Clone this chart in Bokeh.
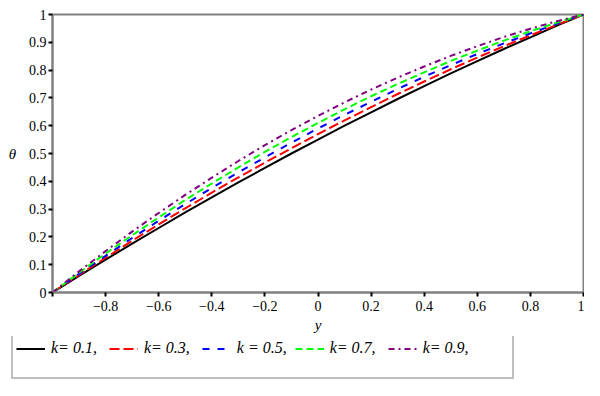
from bokeh.plotting import figure
from bokeh.models import Range1d, FixedTicker, Legend, LegendItem
from bokeh.layouts import column, row
from bokeh.embed import file_html
from bokeh.resources import INLINE

# data
y_vals = [-1.0, -0.9, -0.8, -0.7, -0.6, -0.5, -0.4, -0.3, -0.2, -0.1, 0.0,
          0.1, 0.2, 0.3, 0.4, 0.5, 0.6, 0.7, 0.8, 0.9, 1.0]
theta_k01 = [0, 0.060, 0.118, 0.176, 0.232, 0.288, 0.342, 0.396, 0.448, 0.500, 0.550,
             0.600, 0.648, 0.696, 0.742, 0.788, 0.832, 0.876, 0.918, 0.960, 1.0]
theta_k03 = [0, 0.063, 0.125, 0.186, 0.245, 0.303, 0.359, 0.414, 0.467, 0.519, 0.570,
             0.619, 0.667, 0.714, 0.759, 0.803, 0.845, 0.886, 0.925, 0.963, 1.0]
theta_k05 = [0, 0.067, 0.132, 0.196, 0.258, 0.318, 0.376, 0.432, 0.486, 0.539, 0.590,
             0.639, 0.686, 0.732, 0.776, 0.818, 0.858, 0.896, 0.932, 0.967, 1.0]
theta_k07 = [0, 0.071, 0.140, 0.206, 0.270, 0.333, 0.392, 0.450, 0.506, 0.559, 0.610,
             0.659, 0.706, 0.750, 0.792, 0.833, 0.870, 0.906, 0.940, 0.971, 1.0]
theta_k09 = [0, 0.076, 0.149, 0.219, 0.286, 0.351, 0.413, 0.473, 0.530, 0.584, 0.635,
             0.684, 0.730, 0.773, 0.813, 0.851, 0.886, 0.919, 0.949, 0.976, 1.0]

series_labels = ["k= 0.1,", "k= 0.3,", "k = 0.5,", "k= 0.7,", "k= 0.9,"]
label_pad = ["   ", "   ", "  ", "   ", "          "]
series_data = [theta_k01, theta_k03, theta_k05, theta_k07, theta_k09]
series_colors = ["black", "#ff0000", "#0000ff", "#00ff00", "#800080"]
series_dash = ["solid", "10 4", "7 8", "7 4", "6 4 2 4"]

x_ticks = [-1.0, -0.8, -0.6, -0.4, -0.2, 0.0, 0.2, 0.4, 0.6, 0.8, 1.0]
x_tick_labels = ["", "\u22120.8", "\u22120.6", "\u22120.4", "\u22120.2", "0", "0.2", "0.4", "0.6", "0.8", "1"]
y_ticks = [0.0, 0.1, 0.2, 0.3, 0.4, 0.5, 0.6, 0.7, 0.8, 0.9, 1.0]
y_tick_labels = ["0", "0.1", "0.2", "0.3", "0.4", "0.5", "0.6", "0.7", "0.8", "0.9", "1"]

FONT = "'Liberation Serif', serif"
GRAY = "#808080"

p = figure(width=584, height=336, output_backend="svg", toolbar_location=None,
           x_range=Range1d(-1, 1), y_range=Range1d(0, 1),
           min_border_left=52, min_border_right=1, min_border_top=14, min_border_bottom=44)
p.background_fill_color = "white"
p.border_fill_color = "white"
p.outline_line_color = GRAY
p.outline_line_width = 2
p.xgrid.visible = False
p.ygrid.visible = False

for ax in (p.xaxis[0], p.yaxis[0]):
    ax.axis_line_color = GRAY
    ax.axis_line_width = 2
    ax.major_tick_line_color = "black"
    ax.major_tick_line_width = 2
    ax.major_tick_out = 4
    ax.major_tick_in = 0
    ax.minor_tick_line_color = None
    ax.major_label_text_font = FONT
    ax.major_label_text_font_size = "14px"
    ax.major_label_text_color = "black"
    ax.axis_label_text_font = FONT
    ax.axis_label_text_font_size = "15px"
    ax.axis_label_text_font_style = "italic"
    ax.axis_label_text_color = "black"

p.xaxis.ticker = FixedTicker(ticks=x_ticks)
p.xaxis.major_label_overrides = dict(zip(x_ticks, x_tick_labels))
p.xaxis.axis_label = "y"
p.xaxis.major_label_standoff = 4
p.xaxis.axis_label_standoff = 3

p.yaxis.ticker = FixedTicker(ticks=y_ticks)
p.yaxis.major_label_overrides = dict(zip(y_ticks, y_tick_labels))
p.yaxis.axis_label = "\u03b8"
p.yaxis.axis_label_orientation = "horizontal"
p.yaxis.major_label_standoff = 2
p.yaxis.axis_label_standoff = 10

for data, col, dash in zip(series_data, series_colors, series_dash):
    p.line(y_vals, data, line_color=col, line_width=2, line_dash=dash)

# legend strip below the plot (its own lines lie outside its visible range)
lf = figure(width=584, height=44, output_backend="svg", toolbar_location=None,
            x_range=Range1d(-1, 1), y_range=Range1d(5, 6),
            x_axis_location=None, y_axis_location=None,
            min_border_left=0, min_border_right=0, min_border_top=0, min_border_bottom=0)
lf.outline_line_color = None
lf.xgrid.visible = False
lf.ygrid.visible = False
lf.background_fill_color = "white"
lf.border_fill_color = "white"

items = []
for lab, pad, data, col, dash in zip(series_labels, label_pad, series_data, series_colors, series_dash):
    r = lf.line(y_vals, data, line_color=col, line_width=2, line_dash=dash)
    items.append(LegendItem(label=lab + pad, renderers=[r]))
dummy = lf.line(y_vals, theta_k01, line_alpha=0)
items.append(LegendItem(label=" ", renderers=[dummy]))

legend = Legend(items=items, orientation="horizontal", ncols=5, location=(11, 1))
legend.border_line_color = GRAY
legend.border_line_width = 2
legend.background_fill_color = "white"
legend.background_fill_alpha = 1
legend.label_text_font = FONT
legend.label_text_font_style = "italic"
legend.label_text_font_size = "16px"
legend.label_text_color = "black"
legend.glyph_width = 29
legend.glyph_height = 17
legend.label_height = 17
legend.label_standoff = 6
legend.spacing = 0
legend.padding = 3
legend.margin = 0
lf.add_layout(legend, "center")

layout = column(p, row(lf), spacing=0)
open("out.html", "w").write(file_html(layout, INLINE))
